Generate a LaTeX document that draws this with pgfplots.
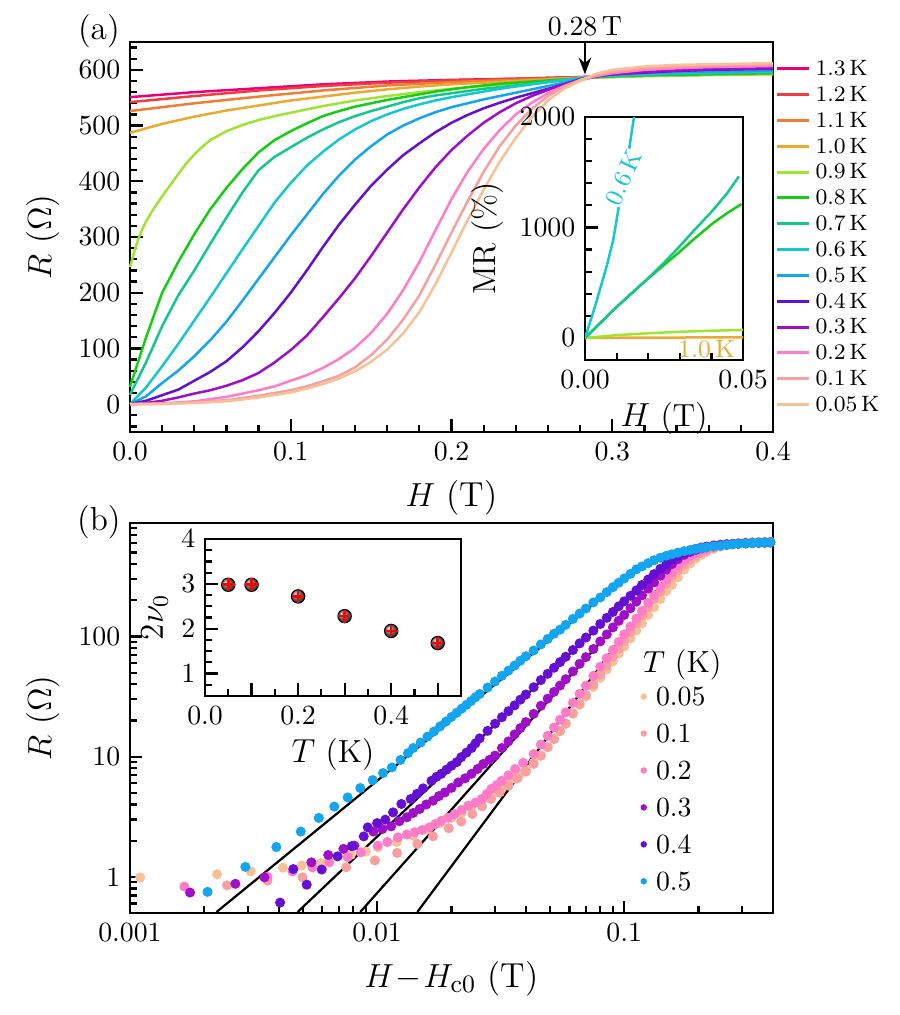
\documentclass[border=0pt]{standalone}
\usepackage{pgfplots}
\pgfplotsset{compat=1.18}
\usetikzlibrary{arrows.meta}
\definecolor{c13}{RGB}{234,0,122}
\definecolor{c12}{RGB}{240,60,60}
\definecolor{c11}{RGB}{240,125,50}
\definecolor{c10}{RGB}{234,170,50}
\definecolor{c09}{RGB}{160,228,50}
\definecolor{c08}{RGB}{20,205,20}
\definecolor{c07}{RGB}{20,200,140}
\definecolor{c06}{RGB}{20,200,205}
\definecolor{c05}{RGB}{20,165,240}
\definecolor{c04}{RGB}{100,15,210}
\definecolor{c03}{RGB}{160,15,200}
\definecolor{c02}{RGB}{255,125,200}
\definecolor{c01}{RGB}{248,160,160}
\definecolor{c005}{RGB}{248,192,150}
\pgfplotsset{
  myax/.style={scale only axis, anchor=south west, tick align=inside, tick pos=left,
    axis line style={line width=0.9pt}, major tick length=4.5pt, minor tick length=2.5pt,
    every tick/.append style={black, line width=0.8pt},
    scaled ticks=false, /pgf/number format/set thousands separator={},
    tick label style={font=\fontsize{10}{12}\selectfont},
    label style={font=\fontsize{12.5}{15}\selectfont}},
  dots/.style={only marks, mark=*, mark size=1.6pt, mark options={draw=none, fill=#1}, color=#1},
}
\begin{document}
\begin{tikzpicture}
\path[use as bounding box] (0,0) rectangle (323.64pt,365.4pt);
\node[font=\fontsize{12}{14}\selectfont] at (35.6pt,354.2pt) {(a)};
\node[font=\fontsize{12}{14}\selectfont] at (35.6pt,177.5pt) {(b)};
% ---------------- panel (a)
\begin{axis}[myax, at={(46.8pt,209.88pt)}, width=231.48pt, height=140.4pt,
  xmin=0, xmax=0.4, ymin=-50, ymax=650, clip=false,
  xtick={0,0.1,0.2,0.3,0.4}, xticklabels={0.0,0.1,0.2,0.3,0.4},
  minor xtick={0.02,0.04,0.06,0.08,0.12,0.14,0.16,0.18,0.22,0.24,0.26,0.28,0.32,0.34,0.36,0.38},
  ytick={0,100,200,300,400,500,600},
  minor ytick={-40,-20,20,40,60,80,120,140,160,180,220,240,260,280,320,340,360,380,420,440,460,480,520,540,560,580,620,640},
  xlabel={$H$ (T)}, ylabel={$R$ $(\Omega)$},
  every axis plot/.append style={line width=0.9pt, no markers},
  legend cell align=left,
  legend image code/.code={\draw[#1, line width=1.1pt] (0pt,0pt) -- (11.5pt,0pt);},
  legend style={draw=none, fill=none, at={(1.0,0.955)}, anchor=north west, xshift=0.7pt,
    inner xsep=0pt, inner ysep=0pt, font=\fontsize{8}{9}\selectfont, row sep=3.1pt, column sep=1.8pt,
    nodes={inner sep=0pt, text height=5.6pt, text depth=0.6pt}},
]
\addplot[c13] coordinates {(0,551) (0.04,560) (0.08,567) (0.12,574) (0.16,579) (0.20,582) (0.24,584) (0.28,587) (0.32,590) (0.36,592) (0.40,595)};
\addplot[c12] coordinates {(0,542) (0.04,553) (0.08,563) (0.12,571) (0.16,577) (0.20,581) (0.24,584) (0.28,587) (0.32,590) (0.36,592) (0.40,594)};
\addplot[c11] coordinates {(0,526) (0.04,540) (0.08,552) (0.12,563) (0.16,572) (0.20,578) (0.24,582) (0.28,586) (0.32,589) (0.36,591) (0.40,593)};
\addplot[c10] coordinates {(0,487) (0.02,503) (0.04,516) (0.06,527) (0.08,536) (0.10,545) (0.12,552) (0.14,559) (0.16,565) (0.18,570) (0.20,574) (0.24,580) (0.28,586) (0.32,589) (0.36,591) (0.40,592)};
\addplot[c09] coordinates {(0,246) (0.0025,272) (0.005,295) (0.0075,313) (0.01,328) (0.015,352) (0.02,373) (0.025,393) (0.03,413) (0.035,432) (0.04,448) (0.045,462) (0.05,474) (0.06,490) (0.07,501) (0.08,510) (0.09,517) (0.10,523) (0.12,535) (0.14,545) (0.16,553) (0.18,560) (0.20,566) (0.22,571) (0.24,576) (0.26,580) (0.28,585) (0.30,587) (0.32,589) (0.34,590) (0.36,591) (0.38,592) (0.40,593)};
\addplot[c08] coordinates {(0,31) (0.01,120) (0.02,200) (0.03,255) (0.04,305) (0.05,350) (0.06,388) (0.07,422) (0.08,452) (0.09,474) (0.10,490) (0.11,504) (0.12,517) (0.13,526) (0.14,534) (0.15,540) (0.16,546) (0.17,551) (0.18,556) (0.19,561) (0.20,565) (0.21,569) (0.22,572) (0.23,575) (0.24,577) (0.25,579) (0.26,581) (0.27,583) (0.28,585) (0.29,587) (0.30,588) (0.32,590) (0.34,591) (0.36,592) (0.38,593) (0.40,594)};
\addplot[c07] coordinates {(0,17) (0.01,75) (0.02,140) (0.03,195) (0.04,240) (0.05,288) (0.06,335) (0.07,380) (0.08,420) (0.09,444) (0.10,461) (0.11,478) (0.12,493) (0.13,506) (0.14,517) (0.15,526) (0.16,534) (0.17,542) (0.18,549) (0.19,554) (0.20,558) (0.21,562) (0.22,566) (0.23,569) (0.24,572) (0.25,575) (0.26,578) (0.27,581) (0.28,585) (0.29,588) (0.30,589) (0.32,591) (0.34,593) (0.36,594) (0.38,595) (0.40,596)};
\addplot[c06] coordinates {(0,0) (0.01,30) (0.02,68) (0.03,108) (0.04,150) (0.05,192) (0.06,235) (0.07,278) (0.08,320) (0.09,362) (0.10,397) (0.11,428) (0.12,453) (0.13,475) (0.14,493) (0.15,508) (0.16,520) (0.17,530) (0.18,538) (0.19,545) (0.20,551) (0.21,556) (0.22,561) (0.23,566) (0.24,570) (0.25,574) (0.26,578) (0.27,582) (0.28,585) (0.29,588) (0.30,590) (0.32,592) (0.34,594) (0.36,595) (0.38,596) (0.40,597)};
\addplot[c05] coordinates {(0,0) (0.01,14) (0.02,38) (0.03,60) (0.04,86) (0.05,115) (0.06,148) (0.07,186) (0.08,225) (0.09,264) (0.10,303) (0.11,340) (0.12,377) (0.13,410) (0.14,439) (0.15,463) (0.16,484) (0.17,500) (0.18,513) (0.19,524) (0.20,533) (0.21,540) (0.22,547) (0.23,553) (0.24,559) (0.25,565) (0.26,571) (0.27,577) (0.28,584) (0.29,589) (0.30,591) (0.32,594) (0.34,596) (0.36,597) (0.38,598) (0.40,599)};
\addplot[c04] coordinates {(0,0) (0.01,6) (0.02,16) (0.03,26) (0.04,42) (0.05,58) (0.06,77) (0.07,102) (0.08,131) (0.09,164) (0.10,200) (0.11,240) (0.12,282) (0.13,322) (0.14,358) (0.15,392) (0.16,421) (0.17,447) (0.18,468) (0.19,488) (0.20,505) (0.21,519) (0.22,531) (0.23,541) (0.24,550) (0.25,558) (0.26,566) (0.27,574) (0.28,583) (0.29,589) (0.30,592) (0.32,595) (0.34,598) (0.36,600) (0.38,601) (0.40,602)};
\addplot[c03] coordinates {(0,0) (0.01,2) (0.02,6) (0.03,12) (0.04,19) (0.05,25) (0.06,33) (0.07,43) (0.08,56) (0.09,75) (0.10,97) (0.11,123) (0.12,156) (0.13,190) (0.14,226) (0.15,266) (0.16,308) (0.17,350) (0.18,389) (0.19,425) (0.20,456) (0.21,482) (0.22,505) (0.23,524) (0.24,540) (0.25,553) (0.26,564) (0.27,574) (0.28,582) (0.29,588) (0.30,592) (0.32,596) (0.34,599) (0.36,601) (0.38,602) (0.40,603)};
\addplot[c02] coordinates {(0,0) (0.02,1) (0.04,5) (0.06,13) (0.08,25) (0.09,32) (0.10,42) (0.11,52) (0.12,65) (0.13,81) (0.14,101) (0.15,128) (0.16,162) (0.17,205) (0.18,255) (0.19,312) (0.20,368) (0.21,417) (0.22,458) (0.23,492) (0.24,520) (0.25,541) (0.26,558) (0.27,571) (0.28,581) (0.29,589) (0.30,594) (0.32,600) (0.34,603) (0.36,605) (0.38,606) (0.40,607)};
\addplot[c01] coordinates {(0,0) (0.02,1) (0.04,3) (0.06,7) (0.08,15) (0.10,25) (0.11,32) (0.12,41) (0.13,51) (0.14,66) (0.15,88) (0.16,116) (0.17,152) (0.18,195) (0.19,250) (0.20,308) (0.21,364) (0.22,417) (0.23,463) (0.24,500) (0.25,530) (0.26,553) (0.27,570) (0.28,582) (0.29,591) (0.30,597) (0.32,603) (0.34,606) (0.36,608) (0.38,609) (0.40,610)};
\addplot[c005] coordinates {(0,0) (0.02,0) (0.04,2) (0.06,5) (0.08,12) (0.10,21) (0.11,28) (0.12,36) (0.13,46) (0.14,59) (0.15,76) (0.16,98) (0.17,127) (0.18,165) (0.19,215) (0.20,272) (0.21,330) (0.22,385) (0.23,435) (0.24,478) (0.25,515) (0.26,545) (0.27,566) (0.28,580) (0.29,593) (0.30,600) (0.32,606) (0.34,609) (0.36,610) (0.38,611) (0.40,612)};
\legend{1.3\,K,1.2\,K,1.1\,K,1.0\,K,0.9\,K,0.8\,K,0.7\,K,0.6\,K,0.5\,K,0.4\,K,0.3\,K,0.2\,K,0.1\,K,0.05\,K}
\draw[-{Stealth[length=6pt,width=4.5pt]}, line width=0.8pt] (axis cs:0.283,650) -- (axis cs:0.283,592);
\node[anchor=south, font=\fontsize{10}{12}\selectfont, inner sep=2pt] at (axis cs:0.283,650) {0.28\,T};
\end{axis}
% ---------------- inset (a)
\begin{axis}[myax, at={(210.6pt,235.8pt)}, width=56.88pt, height=87.48pt,
  xmin=0, xmax=0.05, ymin=-200, ymax=2000,
  xtick={0,0.05}, xticklabels={0.00,0.05}, minor xtick={0.01,0.02,0.03,0.04},
  ytick={0,1000,2000}, yticklabels={0,1000,2000}, minor ytick={-200,200,400,600,800,1200,1400,1600,1800},
  xlabel={$H$ (T)}, ylabel={MR (\%)}, label style={font=\fontsize{11.5}{13}\selectfont},
  xlabel style={yshift=2pt}, ylabel style={yshift=-1pt},
  every axis plot/.append style={line width=0.9pt, no markers},
]
\addplot[c10] coordinates {(0,0) (0.025,3) (0.05,5)};
\addplot[c09] coordinates {(0,0) (0.01,25) (0.02,42) (0.03,55) (0.04,65) (0.05,72)};
\addplot[c08] coordinates {(0,0) (0.005,140) (0.01,280) (0.015,410) (0.0195,526) (0.025,660) (0.03,780) (0.0342,888) (0.0405,1039) (0.045,1130) (0.0495,1211)};
\addplot[c07] coordinates {(0,0) (0.005,140) (0.01,280) (0.015,410) (0.0195,526) (0.025,680) (0.03,830) (0.0342,964) (0.04,1140) (0.045,1310) (0.0487,1462)};
\addplot[c06] coordinates {(0,0) (0.00316,284) (0.00684,647) (0.00895,888) (0.01053,1160) (0.01316,1553) (0.0155,2000)};
\node[rotate=65, text=c06, font=\fontsize{9}{10}\selectfont, inner sep=0pt, fill=white] at (axis cs:0.0122,1450) {0.6\,K};
\node[text=c10, font=\fontsize{9}{10}\selectfont, inner sep=0pt] at (axis cs:0.0385,-100) {1.0\,K};
\end{axis}
% ---------------- panel (b)
\begin{axis}[myax, xmode=log, ymode=log, at={(46.8pt,36.72pt)}, width=231.48pt, height=140.4pt,
  xmin=0.001, xmax=0.4, ymin=0.5, ymax=880,
  xtick={0.001,0.01,0.1}, xticklabels={0.001,0.01,0.1},
  minor xtick={0.002,0.003,0.004,0.005,0.006,0.007,0.008,0.009,0.02,0.03,0.04,0.05,0.06,0.07,0.08,0.09,0.2,0.3,0.4},
  ytick={1,10,100}, yticklabels={1,10,100},
  minor ytick={0.6,0.7,0.8,0.9,2,3,4,5,6,7,8,9,20,30,40,50,60,70,80,90,200,300,400,500,600,700,800},
  xlabel={$H\!-\!H_{\mathrm{c0}}$ (T)}, ylabel={$R$ $(\Omega)$},
  legend cell align=left,
  legend image code/.code={\draw[#1, mark size=0.95pt] plot coordinates {(1.5pt,0pt)};},
  legend style={draw=none, fill=none, at={(0.794,0.583)}, anchor=north west,
    inner xsep=0pt, inner ysep=0pt, font=\fontsize{10}{12}\selectfont, row sep=5.8pt, column sep=3.5pt,
    nodes={inner sep=0pt, text height=7pt, text depth=0.5pt}},
]
\addplot[dots=c005] coordinates {(0.0011,0.99) (0.00225,1.05) (0.00308,1.11) (0.00416,1.19) (0.00495,1.24) (0.00592,1.30) (0.00783,1.52) (0.00901,1.62) (0.01006,1.76) (0.012,1.95) (0.014,2.2) (0.016,2.5) (0.018,2.8) (0.020,3.1) (0.022,3.4) (0.024,3.8) (0.026,4.2) (0.028,4.6) (0.030,5.0) (0.032,5.5) (0.034,6.0) (0.036,6.6) (0.038,7.2) (0.040,7.8) (0.043,8.9) (0.046,10.2) (0.049,12.0) (0.052,14.2) (0.055,16.4) (0.058,18.9) (0.062,22.7) (0.066,27.0) (0.070,31.6) (0.075,38) (0.080,45.3) (0.085,53.2) (0.090,62.1) (0.095,72.1) (0.100,82.7) (0.106,96.6) (0.112,112) (0.118,129) (0.125,151) (0.132,175) (0.140,205) (0.148,238) (0.156,268) (0.165,310) (0.175,360) (0.185,405) (0.195,445) (0.205,478) (0.215,505) (0.230,537) (0.245,560) (0.260,577) (0.275,590) (0.290,598) (0.310,605) (0.330,609) (0.350,612) (0.370,614) (0.390,615)};
\addplot[dots=c01] coordinates {(0.00247,0.85) (0.0036,0.93) (0.00499,0.99) (0.0075,1.2) (0.0098,1.37) (0.01205,1.58) (0.01455,1.88) (0.01683,2.17) (0.0195,2.54) (0.0219,2.88) (0.0243,3.33) (0.0266,3.86) (0.0289,4.44) (0.0314,5.04) (0.034,5.73) (0.037,6.6) (0.040,7.5) (0.043,8.7) (0.046,10.2) (0.049,12.0) (0.052,14.0) (0.055,16.3) (0.058,18.8) (0.062,23) (0.066,27.5) (0.070,32.7) (0.075,39.9) (0.080,48.1) (0.085,57.4) (0.090,67.7) (0.095,79.2) (0.100,92) (0.106,109) (0.112,128) (0.118,149) (0.125,176) (0.132,206) (0.140,235) (0.148,275) (0.156,315) (0.165,355) (0.175,400) (0.185,438) (0.195,470) (0.205,497) (0.215,518) (0.230,545) (0.245,565) (0.260,579) (0.275,590) (0.290,597) (0.310,603) (0.330,607) (0.350,610) (0.370,612) (0.390,613)};
\addplot[dots=c02] coordinates {(0.00166,0.83) (0.0036,1.0) (0.00454,1.11) (0.00547,1.2) (0.0064,1.32) (0.0076,1.46) (0.0086,1.6) (0.01006,1.82) (0.011,1.95) (0.01214,2.13) (0.0132,2.25) (0.01418,2.35) (0.0152,2.45) (0.0163,2.58) (0.0172,2.75) (0.0182,2.93) (0.0194,3.1) (0.0206,3.33) (0.022,3.6) (0.0234,3.91) (0.025,4.15) (0.0265,4.44) (0.0278,4.9) (0.029,5.4) (0.0305,5.8) (0.0319,6.3) (0.034,7.0) (0.0362,7.9) (0.039,8.9) (0.043,10.5) (0.046,12.6) (0.049,14.9) (0.052,17.5) (0.055,20.3) (0.058,23.4) (0.062,28) (0.066,33.3) (0.070,39) (0.075,47) (0.080,56) (0.085,66) (0.090,77) (0.095,90) (0.100,104) (0.106,121) (0.112,141) (0.118,163) (0.125,190) (0.132,220) (0.140,256) (0.148,296) (0.156,340) (0.165,385) (0.175,430) (0.185,468) (0.195,497) (0.205,520) (0.215,537) (0.230,556) (0.245,569) (0.260,579) (0.275,586) (0.290,591) (0.310,596) (0.330,600) (0.350,603) (0.370,605) (0.390,607)};
\addplot[dots=c03] coordinates {(0.00175,0.74) (0.00267,0.875) (0.0035,0.99) (0.00542,1.32) (0.00634,1.52) (0.00731,1.71) (0.00809,1.82) (0.00966,2.38) (0.0105,2.5) (0.0114,2.63) (0.0123,2.9) (0.0132,3.13) (0.0140,3.4) (0.01487,3.67) (0.0158,4.0) (0.01683,4.3) (0.0178,4.7) (0.0188,5.04) (0.0200,5.5) (0.0213,6.1) (0.0227,6.6) (0.0241,7.2) (0.0255,7.9) (0.0269,8.7) (0.0285,9.4) (0.0300,10.2) (0.032,11.8) (0.034,13.4) (0.036,15.3) (0.038,17.3) (0.040,19.4) (0.043,22.7) (0.046,26.5) (0.049,30.4) (0.052,34.6) (0.055,39.1) (0.058,44.1) (0.062,51.2) (0.066,59.2) (0.070,67.4) (0.075,78.7) (0.080,91) (0.085,104) (0.090,119) (0.095,135) (0.100,151) (0.106,172) (0.112,195) (0.118,220) (0.125,250) (0.132,282) (0.140,320) (0.148,360) (0.156,400) (0.165,440) (0.175,478) (0.185,505) (0.195,525) (0.205,541) (0.215,553) (0.230,566) (0.245,576) (0.260,583) (0.275,588) (0.290,592) (0.310,596) (0.330,599) (0.350,602) (0.370,604) (0.390,606)};
\addplot[dots=c04] coordinates {(0.00405,0.61) (0.00458,1.16) (0.00519,0.86) (0.00597,1.15) (0.00692,1.48) (0.0079,1.8) (0.00883,2.17) (0.00917,2.58) (0.0100,2.8) (0.0108,2.99) (0.0116,3.44) (0.01254,4.04) (0.01367,4.44) (0.0145,4.9) (0.01535,5.45) (0.0166,6.3) (0.0174,6.8) (0.0182,7.2) (0.0191,7.8) (0.0200,8.4) (0.0210,9.0) (0.0219,9.9) (0.0230,10.8) (0.0241,11.8) (0.0250,12.9) (0.026,14.2) (0.028,16.4) (0.030,18.8) (0.032,21.3) (0.034,23.9) (0.036,26.7) (0.038,29.8) (0.040,32.9) (0.043,37.8) (0.046,43.4) (0.049,48.9) (0.052,54.9) (0.055,61.2) (0.058,67.8) (0.062,77.2) (0.066,87.6) (0.070,98) (0.075,112) (0.080,127) (0.085,143) (0.090,160) (0.095,178) (0.100,196) (0.106,218) (0.112,242) (0.118,268) (0.125,298) (0.132,330) (0.140,365) (0.148,400) (0.156,435) (0.165,468) (0.175,498) (0.185,520) (0.195,537) (0.205,550) (0.215,560) (0.230,572) (0.245,580) (0.260,586) (0.275,590) (0.290,593) (0.310,597) (0.330,600) (0.350,602) (0.370,604) (0.390,606)};
\addplot[dots=c05] coordinates {(0.00206,0.75) (0.00293,1.21) (0.00391,1.77) (0.00491,2.38) (0.00581,3.09) (0.00671,3.84) (0.0076,4.58) (0.00855,5.48) (0.0096,6.38) (0.01057,7.3) (0.01148,8.13) (0.01244,9.4) (0.01334,10.7) (0.014,11.8) (0.015,13.1) (0.016,14.7) (0.017,16.2) (0.018,17.9) (0.019,19.6) (0.020,21.4) (0.021,23.2) (0.022,25.1) (0.023,27.0) (0.024,29.0) (0.025,31.2) (0.026,33.2) (0.028,37.6) (0.030,42.2) (0.032,47.1) (0.034,52.0) (0.036,57.3) (0.038,62.9) (0.040,68.5) (0.043,76.4) (0.046,85.9) (0.049,95.3) (0.052,105.5) (0.055,114) (0.058,125) (0.062,140) (0.066,155) (0.070,171) (0.075,192) (0.080,211) (0.085,234) (0.090,257) (0.095,280) (0.100,304) (0.106,332) (0.112,362) (0.118,383) (0.125,407) (0.132,431) (0.140,452) (0.148,470) (0.156,484) (0.165,499) (0.175,513) (0.185,525) (0.195,535) (0.205,545) (0.215,552) (0.230,562) (0.245,570) (0.260,578) (0.275,585) (0.290,590) (0.310,596) (0.330,600) (0.350,603) (0.370,605) (0.390,608)};
\addplot[black, line width=0.8pt, forget plot] coordinates {(0.00224,0.51) (0.116,387)};
\addplot[black, line width=0.8pt, forget plot] coordinates {(0.00477,0.51) (0.1426,385)};
\addplot[black, line width=0.8pt, forget plot] coordinates {(0.00855,0.51) (0.152,394)};
\addplot[black, line width=0.8pt, forget plot] coordinates {(0.01455,0.51) (0.159,376)};
\legend{0.05,0.1,0.2,0.3,0.4,0.5}
\node[anchor=west, inner sep=0pt, font=\fontsize{11}{13}\selectfont] at (rel axis cs:0.797,0.636) {$T$ (K)};
\end{axis}
% ---------------- inset (b)
\begin{axis}[myax, at={(73.8pt,114.84pt)}, width=92.16pt, height=56.52pt,
  xmin=0, xmax=0.55, ymin=0.5, ymax=4,
  xtick={0,0.1,0.2,0.3,0.4,0.5}, xticklabels={0.0,,0.2,,0.4,},
  minor xtick={0.05,0.15,0.25,0.35,0.45},
  ytick={1,2,3,4}, minor ytick={0.75,1.25,1.5,1.75,2.25,2.5,2.75,3.25,3.5,3.75},
  xlabel={$T$ (K)}, ylabel={$2\nu_0$}, label style={font=\fontsize{11.5}{13}\selectfont},
  xlabel style={yshift=2pt}, ylabel style={yshift=-2pt},
]
\addplot[only marks, mark=ball, mark size=2.4pt, ball color=black!50] coordinates {(0.05,2.98) (0.1,2.98) (0.2,2.72) (0.3,2.28) (0.4,1.95) (0.5,1.68)};
\addplot[only marks, mark=+, mark size=2.3pt, red, line width=0.9pt] coordinates {(0.05,2.98) (0.1,2.98) (0.2,2.72) (0.3,2.28) (0.4,1.95) (0.5,1.68)};
\end{axis}
\end{tikzpicture}
\end{document}
